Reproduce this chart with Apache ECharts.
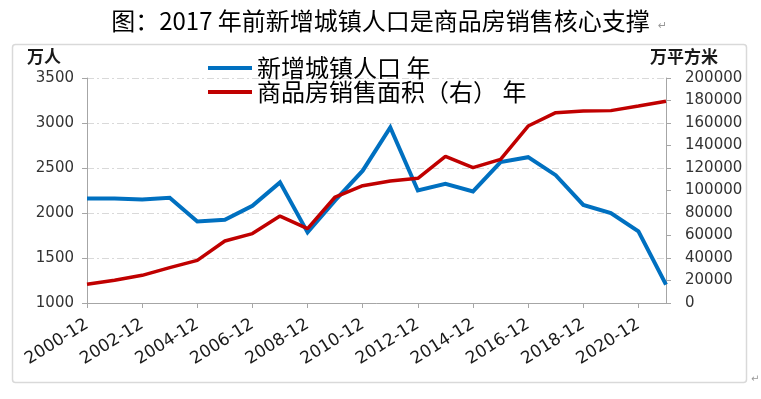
<!DOCTYPE html>
<html>
<head>
<meta charset="utf-8">
<script src="https://cdn.jsdelivr.net/npm/echarts@6/dist/echarts.min.js"></script>
<style>
  html, body { margin: 0; padding: 0; background: #fff; }
  #chart { width: 761px; height: 399px; }
</style>
</head>
<body>
<div id="chart"></div>
<script>
  // 年份（每年12月）
  const months = ['2000-12', '2001-12', '2002-12', '2003-12', '2004-12', '2005-12', '2006-12', '2007-12',
    '2008-12', '2009-12', '2010-12', '2011-12', '2012-12', '2013-12', '2014-12', '2015-12',
    '2016-12', '2017-12', '2018-12', '2019-12', '2020-12', '2021-12']
  // 新增城镇人口（万人，左轴）
  const urbanAdded = [2160, 2160, 2150, 2170, 1905, 1925, 2080, 2340, 1785, 2140, 2470, 2950,
    2250, 2325, 2240, 2565, 2620, 2420, 2090, 2000, 1795, 1205]
  // 商品房销售面积（万平方米，右轴）
  const salesArea = [16600, 20200, 24600, 31400, 37900, 55100, 61700, 77300, 66100, 94200, 104300, 108400,
    110800, 130400, 120300, 127700, 157300, 169200, 170700, 171000, 175100, 179300]

  const titleText = '图：2017 年前新增城镇人口是商品房销售核心支撑'
  const seriesNames = ['新增城镇人口 年', '商品房销售面积（右） 年']
  const unitLeft = '万人'
  const unitRight = '万平方米'

  const cjk = '"Noto Sans CJK SC", "Noto Sans", sans-serif'
  const num = '"DejaVu Sans", "Liberation Sans", sans-serif'
  const axisGray = '#a6a6a6'

  const myChart = echarts.init(document.getElementById('chart'))
  const option = {
    backgroundColor: '#fff',
    animation: false,
    graphic: [
      {
        type: 'rect',
        shape: { x: 12.5, y: 44.5, width: 734, height: 338, r: 3 },
        style: { fill: 'none', stroke: '#d9d9d9', lineWidth: 1.5 },
        silent: true
      },
      {
        type: 'text', left: 'center', top: 9,
        style: { text: titleText, font: '24px ' + cjk, fill: '#000' }
      },
      {
        type: 'text', left: 658, top: 21,
        style: { text: '↵', font: '11px ' + num, fill: '#999' }
      },
      {
        type: 'text', left: 27, top: 48,
        style: { text: unitLeft, font: 'bold 17px ' + cjk, fill: '#1a1a1a' }
      },
      {
        type: 'text', left: 650, top: 48,
        style: { text: unitRight, font: 'bold 17px ' + cjk, fill: '#1a1a1a' }
      },
      {
        type: 'text', left: 751, top: 374,
        style: { text: '↵', font: '10px ' + num, fill: '#999' }
      }
    ],
    legend: {
      orient: 'vertical',
      left: 208,
      top: 56,
      padding: 0,
      itemWidth: 44,
      itemHeight: 4,
      itemGap: 0,
      icon: 'rect',
      textStyle: { fontFamily: cjk, fontSize: 24, lineHeight: 24, color: '#000' },
      data: seriesNames
    },
    grid: {
      left: 87,
      right: 95,
      top: 78,
      bottom: 96,
      containLabel: false,
      outerBoundsMode: 'none'
    },
    xAxis: {
      type: 'category',
      data: months,
      boundaryGap: false,
      axisLine: { show: true, lineStyle: { color: axisGray, width: 1 } },
      axisTick: { show: true, interval: 1, length: 5, lineStyle: { color: axisGray } },
      axisLabel: {
        interval: 1,
        rotate: 32,
        margin: 20,
        fontFamily: num,
        fontSize: 17,
        color: '#1a1a1a',
        hideOverlap: false
      },
      splitLine: { show: false }
    },
    yAxis: [
      {
        type: 'value',
        min: 1000,
        max: 3500,
        interval: 500,
        axisLine: { show: true, lineStyle: { color: axisGray, width: 1 } },
        axisTick: { show: true, length: 5, lineStyle: { color: axisGray } },
        axisLabel: { margin: 13, fontFamily: num, fontSize: 15, color: '#333', formatter: v => String(v) },
        splitLine: { show: true, lineStyle: { color: '#d9d9d9', type: [7, 3, 2, 3], width: 1 } }
      },
      {
        type: 'value',
        min: 0,
        max: 200000,
        interval: 20000,
        position: 'right',
        axisLine: { show: true, lineStyle: { color: axisGray, width: 1 } },
        axisTick: { show: true, length: 5, lineStyle: { color: axisGray } },
        axisLabel: { margin: 19, fontFamily: num, fontSize: 15, color: '#333', formatter: v => String(v) },
        splitLine: { show: false }
      }
    ],
    series: [
      {
        name: seriesNames[0],
        type: 'line',
        yAxisIndex: 0,
        data: urbanAdded,
        symbol: 'none',
        lineStyle: { color: '#0070c0', width: 4, join: 'miter' },
        itemStyle: { color: '#0070c0' }
      },
      {
        name: seriesNames[1],
        type: 'line',
        yAxisIndex: 1,
        data: salesArea,
        symbol: 'none',
        lineStyle: { color: '#c00000', width: 3.5 },
        itemStyle: { color: '#c00000' }
      }
    ]
  }
  myChart.setOption(option)
</script>
</body>
</html>
